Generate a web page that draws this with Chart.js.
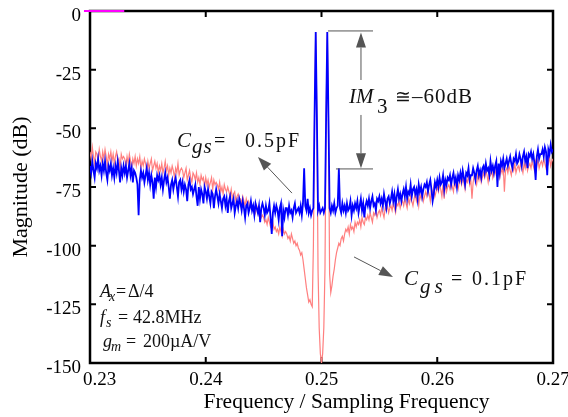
<!DOCTYPE html>
<html><head><meta charset="utf-8">
<script src="https://cdn.jsdelivr.net/npm/chart.js@4"></script>
<style>html,body{margin:0;padding:0;background:#fff}#wrap{width:568px;height:417px}</style>
</head><body><div id="wrap"><canvas id="c" width="568" height="417"></canvas></div>
<script>
// ---- data ----
const freqStart = 0.23;
const freqStep = 0.0001;
const xTickValues = [0.23, 0.24, 0.25, 0.26, 0.27];
const yTickValues = [0, -25, -50, -75, -100, -125, -150];

// Cgs = 0.5pF (blue)
const cgs05 = [
-66,-69,-64,-68,-71,-65,-67,-63,-68,-66,
-70,-65,-68,-64,-69,-72,-66,-68,-65,-70,
-67,-71,-66,-69,-64,-68,-73,-67,-70,-66,
-69,-66,-71,-68,-65,-70,-67,-73,-68,-69,
-71,-74,-87,-72,-68,-71,-69,-73,-70,-67,
-72,-69,-74,-70,-73,-80,-71,-75,-70,-72,
-70,-74,-71,-76,-72,-69,-73,-71,-75,-80,
-74,-72,-76,-73,-71,-75,-79,-73,-72,-76,
-73,-77,-74,-76,-81,-74,-72,-76,-75,-78,
-76,-74,-79,-83,-75,-80,-76,-78,-82,-75,
-77,-80,-76,-79,-82,-77,-78,-84,-79,-76,
-79,-82,-78,-81,-84,-80,-79,-83,-80,-86,
-81,-79,-84,-82,-80,-86,-83,-81,-84,-80,
-82,-85,-81,-84,-88,-83,-82,-86,-84,-81,
-85,-83,-87,-82,-84,-86,-83,-90,-84,-82,
-84,-87,-83,-86,-85,-82,-88,-95,-86,-83,
-86,-83,-85,-89,-84,-82,-96,-85,-88,-84,
-84,-87,-83,-86,-85,-88,-84,-82,-86,-85,
-84,-86,-83,-87,-82,-67,-83,-85,-80,-86,
-84,-87,-85,-84,-45,-9,-45,-85,-83,-86,
-85,-84,-86,-84,-45,-9,-45,-84,-86,-83,
-85,-82,-86,-84,-83,-67,-84,-86,-82,-85,
-83,-86,-82,-85,-84,-81,-87,-83,-85,-82,
-84,-81,-86,-83,-80,-85,-82,-88,-83,-81,
-83,-80,-84,-81,-79,-83,-82,-85,-80,-81,
-79,-82,-80,-83,-78,-81,-84,-80,-79,-82,
-80,-77,-81,-78,-83,-79,-76,-80,-78,-81,
-78,-76,-79,-75,-80,-77,-78,-74,-79,-76,
-75,-78,-76,-80,-74,-77,-75,-79,-76,-74,
-75,-73,-77,-74,-72,-76,-81,-78,-73,-75,
-72,-75,-71,-74,-73,-70,-76,-72,-74,-71,
-72,-70,-74,-71,-69,-73,-71,-75,-70,-72,
-69,-72,-68,-71,-74,-69,-70,-67,-72,-70,
-70,-67,-69,-72,-68,-66,-70,-68,-71,-67,
-66,-69,-65,-68,-67,-70,-64,-68,-66,-69,
-66,-64,-75,-65,-69,-64,-66,-63,-67,-65,
-63,-66,-64,-62,-65,-67,-63,-64,-61,-65,
-64,-61,-63,-66,-62,-60,-64,-62,-67,-61,
-62,-60,-63,-61,-65,-72,-62,-59,-63,-61,
-61,-59,-62,-58,-60,-70,-59,-61,-57,-60,
-59
];

// Cgs = 0.1pF (pink)
const cgs01 = [
-60,-63,-58,-62,-65,-60,-61,-64,-59,-62,
-64,-60,-63,-59,-62,-66,-61,-63,-60,-64,
-61,-65,-62,-60,-64,-63,-67,-61,-63,-62,
-63,-66,-62,-65,-61,-64,-67,-63,-65,-62,
-66,-63,-65,-62,-67,-64,-66,-63,-65,-68,
-64,-67,-65,-63,-68,-66,-64,-67,-65,-69,
-66,-68,-65,-69,-67,-64,-68,-66,-70,-67,
-69,-66,-68,-71,-67,-69,-65,-70,-68,-67,
-68,-71,-69,-67,-72,-70,-68,-71,-73,-69,
-70,-72,-69,-73,-71,-74,-70,-72,-71,-75,
-71,-74,-72,-75,-73,-71,-76,-72,-74,-73,
-74,-76,-73,-77,-75,-78,-74,-76,-77,-75,
-77,-79,-76,-80,-78,-77,-81,-79,-78,-80,
-80,-82,-79,-81,-83,-80,-82,-81,-84,-82,
-83,-85,-84,-86,-83,-85,-87,-86,-88,-87,
-88,-90,-89,-91,-88,-90,-92,-91,-90,-93,
-92,-94,-93,-95,-92,-94,-96,-93,-95,-94,
-95,-97,-96,-98,-95,-97,-99,-98,-100,-99,
-101,-102,-104,-103,-106,-110,-114,-118,-121,-124,
-123,-125,-126,-100,-45,-9,-45,-110,-135,-146,
-150,-146,-135,-110,-45,-9,-45,-112,-120,-117,
-113,-110,-106,-103,-101,-99,-100,-97,-96,-98,
-95,-93,-94,-92,-95,-91,-93,-92,-94,-90,
-92,-90,-91,-89,-92,-88,-90,-91,-88,-89,
-87,-89,-86,-88,-90,-86,-87,-85,-88,-86,
-85,-87,-84,-86,-88,-84,-85,-83,-86,-84,
-83,-85,-82,-84,-86,-82,-83,-81,-84,-82,
-81,-83,-80,-82,-84,-80,-82,-79,-81,-83,
-80,-78,-81,-79,-83,-78,-80,-77,-81,-79,
-77,-79,-76,-78,-81,-76,-78,-75,-79,-77,
-75,-77,-74,-76,-79,-74,-80,-73,-77,-75,
-74,-76,-73,-75,-77,-72,-75,-74,-76,-73,
-72,-74,-71,-73,-76,-72,-73,-70,-74,-72,
-80,-73,-70,-72,-74,-70,-72,-69,-73,-71,
-69,-71,-68,-70,-73,-69,-70,-67,-71,-69,
-68,-70,-67,-69,-71,-67,-69,-66,-77,-68,
-67,-69,-66,-68,-70,-66,-68,-65,-69,-67,
-66,-68,-65,-67,-69,-65,-67,-64,-68,-66,
-65,-67,-64,-66,-68,-64,-66,-63,-67,-65,
-64,-66,-63,-65,-67,-63,-65,-62,-66,-64,
-63
];

// short magenta stub at the top-left corner
const stubFreq = [0.22948, 0.23296];
const stubMag = [0, 0];

// ---- build ----
const freqs = cgs05.map((_, i) => +(freqStart + i * freqStep).toFixed(4));
const pts = arr => arr.map((v, i) => ({x: freqs[i], y: v}));
const SERIF = '"Liberation Serif", "DejaVu Serif", serif';

function seg(ctx, text, x, y, size, italic, spacing) {
  ctx.font = (italic ? 'italic ' : '') + size + 'px ' + SERIF;
  ctx.letterSpacing = (spacing || 0) + 'px';
  ctx.fillText(text, x, y);
  ctx.letterSpacing = '0px';
}
function arrow(ctx, x0, y0, x1, y1, len, hw) {
  const a = Math.atan2(y1 - y0, x1 - x0);
  const bx = x1 - len * Math.cos(a), by = y1 - len * Math.sin(a);
  ctx.beginPath(); ctx.moveTo(x0, y0); ctx.lineTo(bx, by); ctx.stroke();
  ctx.beginPath();
  ctx.moveTo(x1, y1);
  ctx.lineTo(bx + hw * Math.sin(a), by - hw * Math.cos(a));
  ctx.lineTo(bx - hw * Math.sin(a), by + hw * Math.cos(a));
  ctx.closePath(); ctx.fill();
}

const frameAndNotes = {
  id: 'frameAndNotes',
  beforeDatasetsDraw(chart) {
    const {ctx, chartArea: a, scales: {x, y}} = chart;
    ctx.save();
    ctx.strokeStyle = '#000';
    ctx.lineWidth = 2.5;
    ctx.strokeRect(a.left, a.top, a.right - a.left, a.bottom - a.top);
    ctx.lineWidth = 2;
    ctx.beginPath();
    xTickValues.slice(1, -1).forEach(v => {
      const p = x.getPixelForValue(v);
      ctx.moveTo(p, a.bottom); ctx.lineTo(p, a.bottom - 6);
      ctx.moveTo(p, a.top); ctx.lineTo(p, a.top + 6);
    });
    yTickValues.slice(1, -1).forEach(v => {
      const p = y.getPixelForValue(v);
      ctx.moveTo(a.left, p); ctx.lineTo(a.left + 6, p);
      ctx.moveTo(a.right, p); ctx.lineTo(a.right - 6, p);
    });
    ctx.stroke();
    ctx.restore();
  },
  afterDatasetsDraw(chart) {
    const {ctx, chartArea: area, scales: {x, y}} = chart;
    const X = f => x.getPixelForValue(f), Y = d => y.getPixelForValue(d);
    ctx.save();
    ctx.strokeStyle = '#555'; ctx.fillStyle = '#555'; ctx.lineWidth = 1;

    // IM3 bracket
    const vx = X(0.25341);
    ctx.beginPath();
    ctx.moveTo(X(0.25056), Y(-8.5)); ctx.lineTo(X(0.25445), Y(-8.5));
    ctx.moveTo(X(0.25125), Y(-67.3)); ctx.lineTo(X(0.25445), Y(-67.3));
    ctx.stroke();
    arrow(ctx, vx, Y(-29.4), vx, Y(-9.2), 15, 5);
    arrow(ctx, vx, Y(-44.3), vx, Y(-67.0), 15, 5);

    // pointer arrows
    arrow(ctx, X(0.24745), Y(-77.6), X(0.24451), Y(-62.2), 14, 5);
    arrow(ctx, X(0.25281), Y(-104.8), X(0.25618), Y(-113.4), 14, 5);

    // texts
    ctx.fillStyle = '#111';
    ctx.textBaseline = 'alphabetic';
    ctx.textAlign = 'left';
    let bx = X(0.25238), by = Y(-39.2);
    seg(ctx, 'IM', bx, by, 21, true);
    seg(ctx, '3', bx + 28, by + 10, 21, false);
    seg(ctx, '\u2245', bx + 46, by, 19, false);
    seg(ctx, '\u201360dB', bx + 63, by, 21, false, 1);

    bx = X(0.23752); by = Y(-57.95);
    seg(ctx, 'C', bx, by, 21, true);
    seg(ctx, 'gs', bx + 15, by + 6, 21, true, 1);
    seg(ctx, '=', bx + 37, by, 20, false);
    seg(ctx, '0.5pF', bx + 68, by, 20, false, 2);

    bx = X(0.25713); by = Y(-116.8);
    seg(ctx, 'C', bx, by, 21, true);
    seg(ctx, 'gs', bx + 16, by + 8, 21, true, 4);
    seg(ctx, '=', bx + 47, by, 20, false);
    seg(ctx, '0.1pF', bx + 68, by, 20, false, 2);

    bx = X(0.23086);
    by = Y(-121.9);
    seg(ctx, 'A', bx, by, 18, true);
    seg(ctx, 'x', bx + 9, by + 4, 14, true);
    seg(ctx, '=', bx + 16, by, 18, false);
    seg(ctx, '\u0394/4', bx + 28, by, 18, false);
    by = Y(-132.95);
    seg(ctx, 'f', bx, by, 18, true);
    seg(ctx, 's', bx + 6, by + 4, 14, true);
    seg(ctx, '=', bx + 18, by, 18, false);
    seg(ctx, '42.8MHz', bx + 33, by, 18, false);
    by = Y(-143.2);
    seg(ctx, 'g', bx + 3, by, 18, true);
    seg(ctx, 'm', bx + 11, by + 4, 14, true);
    seg(ctx, '=', bx + 26, by, 18, false);
    seg(ctx, '200\u00b5A/V', bx + 43, by, 18, false);

    // x axis title
    ctx.fillStyle = '#000';
    ctx.textAlign = 'center';
    seg(ctx, 'Frequency / Sampling Frequency', (area.left + area.right) / 2 + 25, area.bottom + 45, 21.5, false);
    ctx.restore();
  }
};

new Chart(document.getElementById('c'), {
  type: 'line',
  data: {
    datasets: [
      {label: 'Cgs = 0.5pF', data: pts(cgs05), borderColor: '#0000ff', borderWidth: 1.8},
      {label: 'Cgs = 0.1pF', data: pts(cgs01), borderColor: '#ff7f7f', borderWidth: 1.2},
      {label: 'stub', data: stubFreq.map((f, i) => ({x: f, y: stubMag[i]})), borderColor: '#ff00ff', borderWidth: 2, clip: false}
    ]
  },
  options: {
    responsive: false,
    animation: false,
    devicePixelRatio: 1,
    layout: {padding: {top: 11, right: 15, bottom: 0, left: 0}},
    elements: {point: {radius: 0}, line: {tension: 0}},
    plugins: {legend: {display: false}, tooltip: {enabled: false}},
    scales: {
      x: {
        type: 'linear', min: 0.23, max: 0.27,
        afterBuildTicks: s => { s.ticks = xTickValues.map(v => ({value: v})); },
        afterFit: s => { s.height = 54; s.paddingLeft = 0; s.paddingRight = 0; },
        grid: {display: false, drawTicks: false},
        border: {display: false},
        ticks: {
          color: '#000', padding: 6, maxRotation: 0, autoSkip: false,
          font: {family: SERIF, size: 19},
          callback: v => v === 0.23 ? '\u00a0\u00a0\u00a0\u00a00.23' : v.toFixed(2)
        },
        title: {display: false}
      },
      y: {
        type: 'linear', min: -150, max: 0,
        afterBuildTicks: s => { s.ticks = yTickValues.map(v => ({value: v})); },
        afterFit: s => { s.width = 90; s.paddingTop = 0; s.paddingBottom = 0; },
        grid: {display: false, drawTicks: false},
        border: {display: false},
        ticks: {color: '#000', padding: 9, labelOffset: 5, font: {family: SERIF, size: 19},
          callback: v => String(v)},
        title: {display: true, text: 'Magnitude (dB)', color: '#000',
          font: {family: SERIF, size: 22}, padding: {top: 8, bottom: 0}}
      }
    }
  },
  plugins: [frameAndNotes]
});
</script>
</body></html>
